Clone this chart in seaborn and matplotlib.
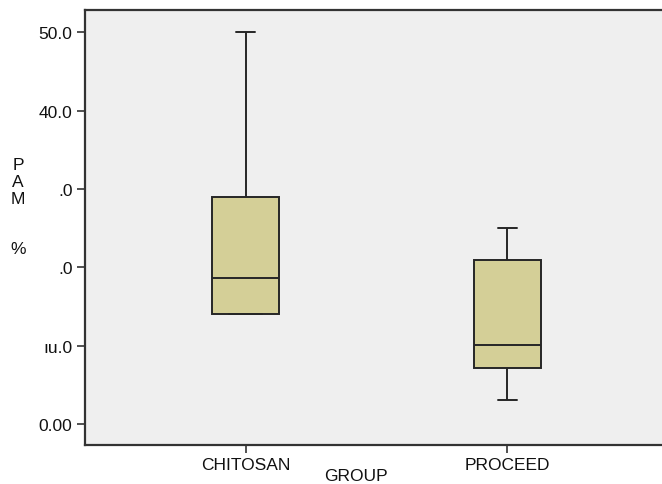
import pandas as pd
import seaborn as sns
import matplotlib.pyplot as plt

# five-number summaries (min, Q1, median, Q3, max)
groups = ["CHITOSAN", "PROCEED"]
chitosan_vals = [14.0, 14.0, 18.6, 29.0, 50.0]
proceed_vals = [3.1, 7.2, 10.1, 20.9, 25.0]

ytick_vals = [0, 10, 20, 30, 40, 50]
ytick_labels = ["0.00", "ıu.0", ".0", ".0", "40.0", "50.0"]

df = pd.DataFrame({
    "GROUP": [groups[0]] * len(chitosan_vals) + [groups[1]] * len(proceed_vals),
    "PAM": chitosan_vals + proceed_vals,
})

sns.set_style("white")
plt.rcParams["font.family"] = ["Liberation Sans", "DejaVu Sans"]

fig = plt.figure(figsize=(6.62, 4.85), dpi=100)
ax = fig.add_axes([85 / 662, 39 / 485, 583 / 662, 435 / 485])
ax.set_facecolor("#efefef")

line_kw = dict(color="#262626", linewidth=1.4)
sns.boxplot(
    data=df, x="GROUP", y="PAM", order=groups, ax=ax,
    width=0.256, color="#d4cf97", whis=1.5,
    boxprops=dict(facecolor="#d4cf97", edgecolor="#262626", linewidth=1.4),
    medianprops=line_kw, whiskerprops=line_kw, capprops=line_kw,
    showfliers=False,
)

# shorten caps like the SPSS style (the cap sitting on Q1 is hidden by the box)
for ln in ax.lines:
    xd = ln.get_xdata()
    yd = ln.get_ydata()
    if len(xd) == 2 and yd[0] == yd[1] and yd[0] in (50.0, 25.0, 3.1):
        c = (xd[0] + xd[1]) / 2
        ln.set_xdata([c - 0.036, c + 0.036])

ax.set_xlim(-0.6126, 1.6126)
ax.set_ylim(-2.68, 52.87)
ax.set_yticks(ytick_vals)
ax.set_yticklabels(ytick_labels, fontsize=12.5, color="#111111")
ax.tick_params(axis="x", labelsize=12.5, length=6, width=1.2, color="#333333",
               pad=3, bottom=True)
ax.tick_params(axis="y", length=6, width=1.2, color="#333333", pad=3, left=True)
for lab in ax.get_xticklabels():
    lab.set_color("#111111")

for side in ["left", "bottom", "top"]:
    ax.spines[side].set_color("#333333")
    ax.spines[side].set_linewidth(1.6)
ax.spines["right"].set_visible(False)

ax.set_xlabel("GROUP", fontsize=12.5, color="#111111", va="center")
ax.xaxis.set_label_coords(0.465, -0.071)
ax.set_ylabel("")
fig.text(18 / 662, 1 - 208 / 485, "P\nA\nM\n\n\n%", fontsize=12.5, ha="center",
         va="center", linespacing=1.15, color="#111111")

fig.savefig("out.png", dpi=100)
